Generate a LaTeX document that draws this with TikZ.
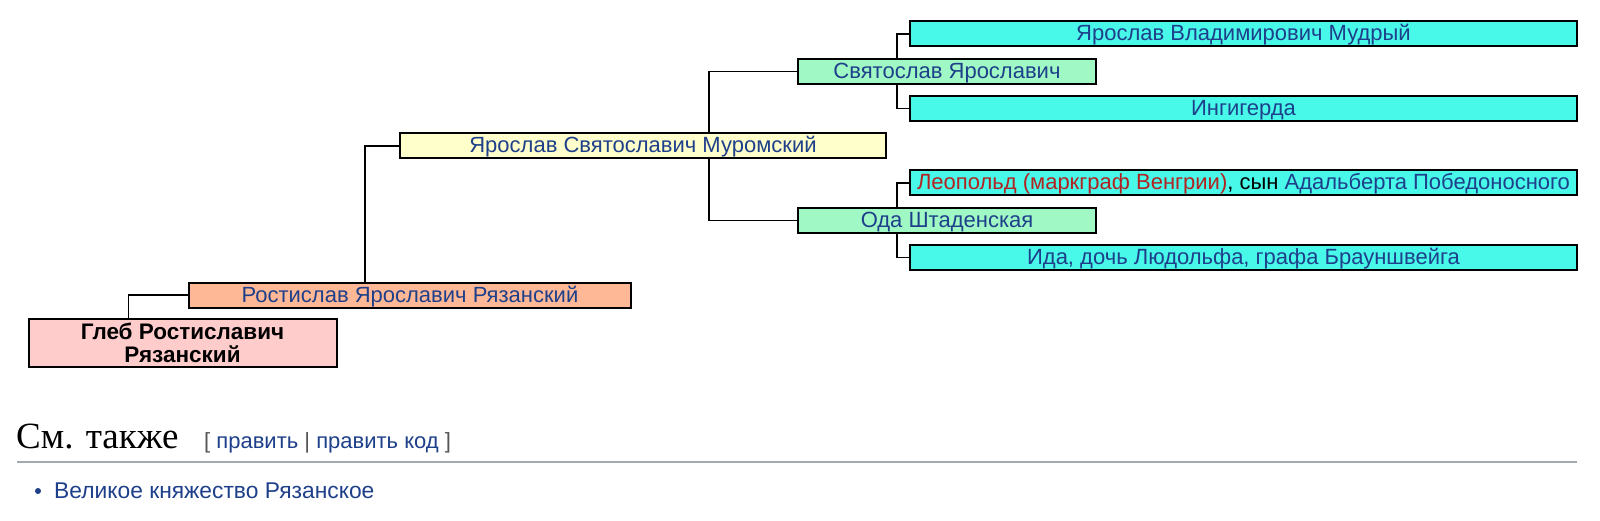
\documentclass[tikz,border=0pt]{standalone}
\usepackage{fontspec}
\setmainfont{Liberation Sans}
\newfontfamily\serifhead{Liberation Serif}
\usetikzlibrary{calc}
\definecolor{linkblue}{HTML}{1E3F8A}
\definecolor{redlink}{HTML}{B22222}
\definecolor{grayt}{HTML}{555555}
\definecolor{rulegray}{HTML}{A2A9B1}
\definecolor{cGleb}{HTML}{FFCCCC}
\definecolor{cRost}{HTML}{FFB895}
\definecolor{cYar}{HTML}{FFFFCC}
\definecolor{cGen3}{HTML}{A0F8C4}
\definecolor{cGen4}{HTML}{48F8E8}
\begin{document}
\begin{tikzpicture}[x=1pt,y=-1pt,
  person/.style={draw=black, line width=2pt, inner sep=0pt, minimum height=25pt,
    text height=16pt, text depth=2pt, font=\fontsize{22}{24}\selectfont, text=linkblue, anchor=west},
  link/.style={line width=1.8pt, draw=black}]
\useasboundingbox[fill=white] (0,0) rectangle (1600,521);

% boxes
\node[draw=black, line width=2pt, inner sep=0pt, minimum width=308pt, minimum height=48pt,
  fill=cGleb, align=center, anchor=west,
  font=\bfseries\fontsize{22.5}{22.5}\selectfont] (gleb) at (27.5,343) {Глеб Ростиславич\\Рязанский};
\node[person, fill=cRost, minimum width=442pt] (rost) at (188,295) {Ростислав Ярославич Рязанский};
\node[person, fill=cYar, minimum width=486pt] (yar) at (399,146) {Ярослав Святославич Муромский};
\node[person, fill=cGen3, minimum width=298pt] (sviat) at (797,71.5) {Святослав Ярославич};
\node[person, fill=cGen3, minimum width=298pt] (oda) at (797,220.5) {Ода Штаденская};
\node[person, fill=cGen4, minimum width=667pt] (mudry) at (909,34) {Ярослав Владимирович Мудрый};
\node[person, fill=cGen4, minimum width=667pt] (ingig) at (909,108.5) {Ингигерда};
\node[person, fill=cGen4, minimum width=667pt] (leop) at (909,183)
  {{\color{redlink}Леопольд (маркграф Венгрии)}{\color{black}, сын }Адальберта Победоносного};
\node[person, fill=cGen4, minimum width=667pt] (ida) at (909,257.5) {Ида, дочь Людольфа, графа Брауншвейга};

% connectors
\draw[link] ($(gleb.north west)+(101,0)$) |- (rost.west);
\draw[link] ($(rost.north west)+(177,0)$) |- (yar.west);
\draw[link] ($(yar.north west)+(310,0)$) |- (sviat.west);
\draw[link] ($(yar.south west)+(310,0)$) |- (oda.west);
\draw[link] ($(sviat.north west)+(100,0)$) |- (mudry.west);
\draw[link] ($(sviat.south west)+(100,0)$) |- (ingig.west);
\draw[link] ($(oda.north west)+(100,0)$) |- (leop.west);
\draw[link] ($(oda.south west)+(100,0)$) |- (ida.west);

% see also section
\node[anchor=base west, inner sep=0pt, font=\serifhead\fontsize{37}{37}\selectfont] (hd) at (16,448) {См. также};
\node[anchor=base west, inner sep=0pt, font=\fontsize{22}{24}\selectfont, text=linkblue] (edit) at (204,448)
  {{\color{grayt}[}\ править {\color{grayt}|} править код {\color{grayt}]}};
\coordinate (rl) at (17,462);
\coordinate (rr) at (1577,462);
\draw[rulegray, line width=1.3pt] (rl) -- (rr);
\fill[linkblue] (38,491) circle (3pt);
\node[anchor=base west, inner sep=0pt, font=\fontsize{22.8}{24}\selectfont, text=linkblue] (item) at (54,498)
  {Великое княжество Рязанское};
\end{tikzpicture}
\end{document}
